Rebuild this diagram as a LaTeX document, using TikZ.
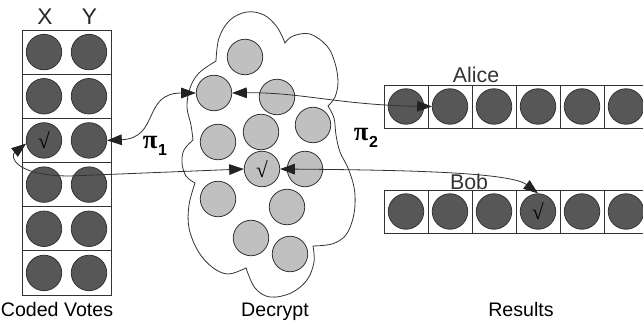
\documentclass[tikz,border=0pt]{standalone}
\usepackage{fontspec}
\setmainfont{Liberation Sans}
\newfontfamily\symfont{Liberation Serif}
\usetikzlibrary{arrows.meta}
\definecolor{darkdisc}{HTML}{575757}
\definecolor{lightdisc}{HTML}{C0C0C0}
\definecolor{ink}{HTML}{333333}
\definecolor{tip}{HTML}{222222}
\newcommand{\tickmark}{{\symfont\fontsize{16}{16}\selectfont √}}

\begin{document}
\begin{tikzpicture}[x=0.75pt,y=-0.75pt,
  disc/.style={circle, minimum size=26.6pt, inner sep=0pt, draw=ink, line width=0.6pt},
  vote/.style={disc, fill=darkdisc},
  plain/.style={disc, fill=lightdisc},
  cellline/.style={draw=ink, line width=0.6pt},
  link/.style={draw=ink, line width=0.6pt,
    {Triangle[length=11pt,width=8pt,color=tip]}-{Triangle[length=11pt,width=8pt,color=tip]}},
  captiontext/.style={anchor=base, font=\fontsize{14.7}{17}\selectfont, text=black},
  voterlabel/.style={anchor=base, font=\fontsize{16}{18}\selectfont, text=black!80},
  colhead/.style={anchor=base, font=\fontsize{17}{19}\selectfont, text=black!85},
  permlabel/.style={font=\fontsize{20}{22}\selectfont\symfont\bfseries, text=black}
]
\useasboundingbox (0,0) rectangle (643,321);

% ---- coded votes: one row per ballot, columns X and Y ----
\draw[cellline] (22,30) rectangle (111,295);
\foreach \k in {1,...,5} {
  \draw[cellline] (22,{30+44.17*\k}) -- (111,{30+44.17*\k});
}
\foreach \r in {1,...,6} {
  \pgfmathsetmacro{\yc}{30+44.17*(\r-0.5)}
  \node[vote] (x\r) at (44,\yc) {\ifnum\r=3 \tickmark\fi};
  \node[vote] (y\r) at (89,\yc) {};
}
\node[colhead] (lx) at (45,25) {X};
\node[colhead] (ly) at (89.5,25) {Y};

% ---- decryption mix: cloud outline ----
\draw[ink, line width=0.6pt]
  plot[smooth, tension=0.6] coordinates {(216,61) (219,38) (230,20) (247,12) (264,15) (277,27) (285,43)}
  -- plot[smooth, tension=0.6] coordinates {(285,43) (293,36) (310,34) (327,46) (335,63) (338,82) (335,97) (328,106)}
  -- plot[smooth, tension=0.6] coordinates {(328,106) (334,118) (336,135) (340,152) (348,168) (354,187) (355,205) (352,222) (345,236) (332,244) (313,246)}
  -- plot[smooth, tension=0.6] coordinates {(313,246) (314,262) (307,280) (291,293) (270,297) (255,288) (246,268)}
  -- plot[smooth, tension=0.6] coordinates {(246,268) (228,274) (212,267) (198,251) (189,228) (189,205) (195,183)}
  -- plot[smooth, tension=0.6] coordinates {(195,183) (186,176) (182,163) (184,150) (193,140)}
  -- plot[smooth, tension=0.6] coordinates {(193,140) (191,125) (187,107) (190,88) (199,73) (216,61)}
  -- cycle;

\node[plain] (c1)  at (245,57)  {};
\node[plain] (c2)  at (214,93)  {};
\node[plain] (c3)  at (277,97)  {};
\node[plain] (c4)  at (313,125) {};
\node[plain] (c5)  at (261,132) {};
\node[plain] (c6)  at (218,142) {};
\node[plain] (c7)  at (262,169) {\tickmark};
\node[plain] (c8)  at (305,169) {};
\node[plain] (c9)  at (218,199) {};
\node[plain] (c10) at (287,207) {};
\node[plain] (c11) at (251,238) {};
\node[plain] (c12) at (290,254) {};

% ---- results: one row per voter ----
\foreach \top in {85, 190} {
  \draw[cellline] (384,\top) rectangle (650,\top+43);
  \foreach \i in {1,...,5} {
    \draw[cellline] ({384+44*\i},\top) -- ({384+44*\i},\top+43);
  }
}
\foreach \i in {1,...,6} {
  \node[vote] (a\i) at ({406+44*(\i-1)},106.5) {};
  \node[vote] (b\i) at ({406+44*(\i-1)},211.5) {\ifnum\i=4 \tickmark\fi};
}
\node[voterlabel] (alice) at (476,83) {Alice};
\node[voterlabel] (bob) at (469,190) {Bob};

% ---- permutations ----
\draw[link] (y3.east) .. controls (160,138) and (142,93) .. (c2.west);
\draw[link] (c2.east) .. controls (300,92) and (340,105) .. (a2.west);
\draw[link] (x3.190) .. controls (10,156) and (14,176) .. (70,176) -- (c7.west);
\draw[link] (c7.east) .. controls (400,170) and (510,172) .. (b4.north);

\node[permlabel] (pi1) at (155,146) {π\kern0.5pt\raisebox{-5pt}{\fontsize{12}{12}\selectfont\rmfamily\bfseries 1}};
\node[permlabel] (pi2) at (366,138) {π\kern0.5pt\raisebox{-5pt}{\fontsize{12}{12}\selectfont\rmfamily\bfseries 2}};

% ---- captions ----
\node[captiontext] (cv) at (57,316) {Coded Votes};
\node[captiontext] (dc) at (275,316) {Decrypt};
\node[captiontext] (rs) at (521,316) {Results};
\end{tikzpicture}
\end{document}
